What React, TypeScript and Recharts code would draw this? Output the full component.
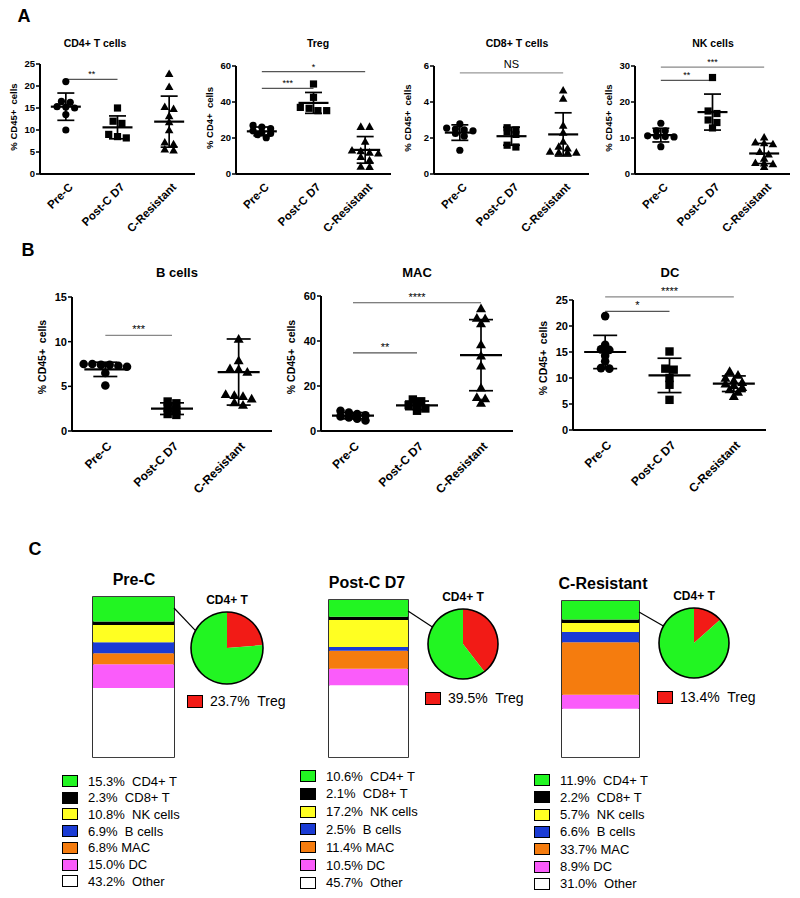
import React from "react";
import {
  Bar,
  BarChart,
  Cell,
  ErrorBar,
  Pie,
  PieChart,
  ReferenceArea,
  ReferenceLine,
  Scatter,
  ScatterChart,
  XAxis,
  YAxis
} from "recharts";

const groups = ["Pre-C", "Post-C D7", "C-Resistant"];

// panel A
const cd4Values = [
  [21.0, 16.5, 16.3, 15.3, 15.2, 15.0, 13.5, 10.0],
  [15.0, 12.0, 11.5, 9.0, 8.5, 8.2],
  [22.8, 19.8, 15.3, 14.8, 13.2, 11.8, 10.0, 7.2, 6.8, 5.6, 5.4]
];
const cd4Mean = [15.3, 10.6, 11.9];
const cd4Sd = [3.1, 2.6, 5.8];

const tregValues = [
  [27.0, 26.0, 25.2, 24.0, 23.0, 22.5, 21.8, 20.2],
  [50.0, 42.6, 37.0, 36.5, 35.2, 35.2],
  [26.3, 26.3, 18.0, 13.2, 12.8, 12.0, 11.5, 9.6, 7.8, 4.2, 4.0]
];
const tregMean = [23.7, 39.5, 13.4];
const tregSd = [2.4, 5.8, 7.4];

const cd8Values = [
  [2.78, 2.55, 2.5, 2.45, 2.4, 2.25, 2.1, 1.32],
  [2.57, 2.45, 2.35, 2.2, 1.6, 1.5],
  [4.65, 4.19, 2.7, 2.31, 1.8, 1.53, 1.43, 1.25, 1.21, 1.2, 1.2]
];
const cd8Mean = [2.3, 2.1, 2.2];
const cd8Sd = [0.43, 0.5, 1.2];

const nkValues = [
  [14.1, 12.0, 12.0, 10.6, 10.5, 10.4, 10.3, 7.6],
  [26.8, 17.5, 16.8, 15.0, 14.3, 12.8],
  [10.2, 8.8, 8.6, 8.3, 6.2, 5.5, 4.3, 3.1, 3.0, 2.8, 2.0]
];
const nkMean = [10.8, 17.2, 5.7];
const nkSd = [1.9, 5.0, 2.8];

// panel B
const bValues = [
  [7.5, 7.5, 7.4, 7.4, 7.3, 7.2, 6.5, 5.1],
  [3.3, 3.1, 2.6, 2.3, 1.9, 1.8],
  [10.3, 7.9, 7.0, 6.9, 6.6, 4.1, 4.0, 3.9, 3.6, 3.2, 2.9]
];
const bMean = [6.9, 2.5, 6.6];
const bSd = [0.8, 0.65, 3.7];

const macValues = [
  [9.0, 8.2, 7.5, 7.0, 6.5, 6.0, 5.5, 4.7],
  [14.0, 13.2, 11.5, 10.8, 10.0, 9.0],
  [54.5, 50.2, 50.0, 47.8, 38.5, 33.5, 29.0, 19.2, 15.0, 14.5, 12.5]
];
const macMean = [6.8, 11.4, 33.7];
const macSd = [1.4, 1.9, 15.8];

const dcValues = [
  [21.9, 16.4, 15.5, 15.4, 14.3, 13.2, 11.9, 11.8],
  [15.1, 11.8, 11.6, 10.0, 8.7, 5.8],
  [11.3, 10.6, 10.0, 9.5, 9.2, 8.9, 8.6, 8.2, 7.8, 7.3, 6.5]
];
const dcMean = [15.0, 10.5, 8.9];
const dcSd = [3.2, 3.3, 1.5];

// panel C
const compCells = ["CD4+ T", "CD8+ T", "NK cells", "B cells", "MAC", "DC", "Other"];
const compColors = ["#22f522", "#000000", "#ffff22", "#1a3bd4", "#f57c0e", "#fa5cfa", "#ffffff"];
const compPreC = [15.3, 2.3, 10.8, 6.9, 6.8, 15.0, 43.2];
const compPostC = [10.6, 2.1, 17.2, 2.5, 11.4, 10.5, 45.7];
const compResistant = [11.9, 2.2, 5.7, 6.6, 33.7, 8.9, 31.0];
const tregOfCd4 = [23.7, 39.5, 13.4];

type Sig = { from: number; to: number; y: number; label: string; color?: string };

const FONT = '"Liberation Sans", Arial, Helvetica, sans-serif';

// spread points with similar values sideways, like a scatter dot plot
function swarm(values: number[], group: number, bin: number, step: number) {
  const sorted = [...values].sort((a, b) => b - a);
  const rows: number[][] = [];
  let cur: number[] = [];
  for (const v of sorted) {
    if (cur.length && cur[0] - v > bin) {
      rows.push(cur);
      cur = [];
    }
    cur.push(v);
  }
  if (cur.length) rows.push(cur);
  const out: { x: number; y: number }[] = [];
  rows.forEach((row) =>
    row.forEach((v, k) => out.push({ x: group + (k - (row.length - 1) / 2) * step, y: v }))
  );
  return out;
}

function SlantTick(props: any) {
  const { x, y, payload, big } = props;
  const fs = big ? 12 : 11.5;
  return (
    <g transform={`translate(${x + (big ? 4 : 5)},${y + (big ? 11 : 9)})`}>
      <text textAnchor="end" transform="rotate(-45)" fontSize={fs} fontWeight={700} fill="#000" dy="0.35em">
        {groups[payload.value]}
      </text>
    </g>
  );
}

const markerShape = (g: number, big: boolean) => (props: any) => {
  const { cx, cy } = props;
  if (g === 0) return <circle cx={cx} cy={cy} r={big ? 4.3 : 3.6} fill="#000" />;
  if (g === 1) {
    const h = big ? 4.2 : 3.6;
    return <rect x={cx - h} y={cy - h} width={2 * h} height={2 * h} fill="#000" />;
  }
  const s = big ? 5 : 4.3;
  return <polygon points={`${cx},${cy - s} ${cx + s},${cy + s * 0.75} ${cx - s},${cy + s * 0.75}`} fill="#000" />;
};

type DotPlotProps = {
  title: string;
  titleX: number;
  titleY: number;
  yLabel: string;
  values: number[][];
  means: number[];
  sds: number[];
  yMax: number;
  yTicks: number[];
  sig: Sig[];
  axisX: number;
  plotTop: number;
  plotBottom: number;
  plotRight: number;
  big?: boolean;
};

function DotPlot(p: DotPlotProps) {
  const big = !!p.big;
  const yw = big ? 34 : 26;
  const mt = big ? 26 : 18;
  const mr = 6;
  const xh = big ? 72 : 64;
  const left = p.axisX - yw;
  const top = p.plotTop - mt;
  const width = p.plotRight - left + mr;
  const height = p.plotBottom - top + xh;
  const step = big ? 0.13 : 0.17;
  const points = p.values.map((vals, g) => swarm(vals, g, p.yMax * 0.035, step));
  const meanData = p.means.map((m, g) => ({ x: g, y: m, sd: p.sds[g] }));
  const hw = big ? 21 : 15;
  const meanShape = (props: any) => (
    <line x1={props.cx - hw} x2={props.cx + hw} y1={props.cy} y2={props.cy} stroke="#000" strokeWidth={2.2} />
  );
  const plotMid = (p.plotTop + p.plotBottom) / 2;

  return (
    <>
      <div
        style={{
          position: "absolute",
          left: p.titleX,
          top: p.titleY,
          transform: "translate(-50%, -50%)",
          fontSize: big ? 13 : 10.5,
          fontWeight: 700,
          whiteSpace: "nowrap"
        }}
      >
        {p.title}
      </div>
      <div
        style={{
          position: "absolute",
          left: p.axisX - (big ? 30 : 27),
          top: plotMid - (big ? 7 : 2),
          transform: "translate(-50%, -50%) rotate(-90deg)",
          fontSize: big ? 10.5 : 9.5,
          fontWeight: 700,
          whiteSpace: "pre"
        }}
      >
        {p.yLabel}
      </div>
      <div style={{ position: "absolute", left, top }}>
        <ScatterChart
          width={width}
          height={height}
          margin={{ top: mt, right: mr, left: 0, bottom: 0 }}
          style={{ overflow: "visible" }}
        >
          <XAxis
            type="number"
            dataKey="x"
            domain={[-0.5, 2.5]}
            ticks={[0, 1, 2]}
            allowDataOverflow
            tick={<SlantTick big={big} />}
            tickLine={false}
            tickSize={0}
            height={xh}
            axisLine={{ stroke: "#000", strokeWidth: 2 }}
          />
          <YAxis
            type="number"
            dataKey="y"
            domain={[0, p.yMax]}
            ticks={p.yTicks}
            allowDataOverflow
            width={yw}
            tick={{ fontSize: big ? 11 : 9.5, fontWeight: 700, fill: "#000" }}
            tickLine={{ stroke: "#000", strokeWidth: 1.5 }}
            tickSize={4}
            tickMargin={1}
            axisLine={{ stroke: "#000", strokeWidth: 2 }}
          />
          {p.sig.map((s) => (
            <ReferenceLine
              key={s.label + s.to}
              segment={[
                { x: s.from, y: s.y },
                { x: s.to, y: s.y }
              ]}
              ifOverflow="visible"
              stroke={s.color || "#555"}
              strokeWidth={1.2}
              label={{
                value: s.label,
                position: "top",
                fill: "#000",
                fontSize: s.label === "NS" ? 11 : big ? 11 : 9,
                offset: s.label === "NS" ? 5 : 2
              }}
            />
          ))}
          {points.map((pts, g) => (
            <Scatter key={g} data={pts} shape={markerShape(g, big)} isAnimationActive={false} />
          ))}
          <Scatter data={meanData} shape={meanShape} isAnimationActive={false}>
            <ErrorBar dataKey="sd" direction="y" width={big ? 12 : 8.5} stroke="#000" strokeWidth={1.7} />
          </Scatter>
        </ScatterChart>
      </div>
    </>
  );
}

type CompProps = {
  title: string;
  titleX: number;
  values: number[];
  treg: number;
  bar: { x: number; y: number; w: number; h: number };
  pie: { cx: number; cy: number; r: number };
  tregLegend: { x: number; y: number };
  legend: { x: number; y: number; step: number };
};

function Composition(c: CompProps) {
  const row: Record<string, string | number> = { name: c.title };
  compCells.forEach((cell, i) => (row[cell] = c.values[i]));
  const total = c.values.reduce((a, b) => a + b, 0);
  const stackOrder = [6, 5, 4, 3, 2, 1, 0];
  const pieData = [
    { name: "Treg", value: c.treg },
    { name: "non-Treg", value: 100 - c.treg }
  ];
  const pad = 5;
  return (
    <>
      <div
        style={{
          position: "absolute",
          left: c.titleX,
          top: c.bar.y - 17,
          transform: "translate(-50%, -50%)",
          fontSize: 16,
          fontWeight: 700,
          whiteSpace: "nowrap"
        }}
      >
        {c.title}
      </div>
      <div style={{ position: "absolute", left: c.bar.x - 2, top: c.bar.y - 2 }}>
        <BarChart
          width={c.bar.w + 4}
          height={c.bar.h + 4}
          data={[row]}
          margin={{ top: 2, right: 2, bottom: 2, left: 2 }}
          barCategoryGap={0}
        >
          <XAxis dataKey="name" hide />
          <YAxis type="number" hide domain={[0, total]} allowDataOverflow />
          {stackOrder.map((i) => (
            <Bar key={compCells[i]} dataKey={compCells[i]} stackId="s" fill={compColors[i]} isAnimationActive={false} />
          ))}
          <ReferenceArea y1={0} y2={total} fill="none" stroke="#000" strokeWidth={1.6} ifOverflow="visible" />
        </BarChart>
      </div>
      <div
        style={{
          position: "absolute",
          left: c.pie.cx,
          top: c.pie.cy - c.pie.r - 12,
          transform: "translate(-50%, -50%)",
          fontSize: 12,
          fontWeight: 700,
          whiteSpace: "nowrap"
        }}
      >
        CD4+ T
      </div>
      <div style={{ position: "absolute", left: c.pie.cx - c.pie.r - pad, top: c.pie.cy - c.pie.r - pad }}>
        <PieChart width={2 * c.pie.r + 2 * pad} height={2 * c.pie.r + 2 * pad} margin={{ top: 0, right: 0, bottom: 0, left: 0 }}>
          <Pie
            data={pieData}
            dataKey="value"
            cx="50%"
            cy="50%"
            outerRadius={c.pie.r}
            startAngle={90}
            endAngle={-270}
            stroke="none"
            isAnimationActive={false}
          >
            <Cell fill="#f21b16" />
            <Cell fill="#22f522" />
          </Pie>
          <Pie
            data={[{ name: "CD4+ T", value: 1 }]}
            dataKey="value"
            cx="50%"
            cy="50%"
            innerRadius={c.pie.r - 0.8}
            outerRadius={c.pie.r + 0.8}
            fill="#000"
            stroke="none"
            isAnimationActive={false}
          />
        </PieChart>
      </div>
      <div
        style={{
          position: "absolute",
          left: c.tregLegend.x,
          top: c.tregLegend.y - 7,
          display: "flex",
          alignItems: "center",
          fontSize: 14,
          whiteSpace: "pre"
        }}
      >
        <span style={{ display: "inline-block", width: 14, height: 11, background: "#f21b16", border: "1px solid #000", marginRight: 7 }} />
        {`${c.treg.toFixed(1)}%  Treg`}
      </div>
      {compCells.map((cell, i) => (
        <div
          key={cell}
          style={{
            position: "absolute",
            left: c.legend.x,
            top: c.legend.y + i * c.legend.step - 8,
            height: 16,
            display: "flex",
            alignItems: "center",
            fontSize: 13,
            whiteSpace: "pre"
          }}
        >
          <span
            style={{
              display: "inline-block",
              width: 14,
              height: 10,
              background: compColors[i],
              border: "1px solid #000",
              marginRight: 10
            }}
          />
          {`${c.values[i].toFixed(1)}%${cell === "MAC" || cell === "DC" ? " " : "  "}${cell}`}
        </div>
      ))}
    </>
  );
}

const comps: CompProps[] = [
  {
    title: "Pre-C",
    titleX: 134,
    values: compPreC,
    treg: tregOfCd4[0],
    bar: { x: 93, y: 597, w: 81, h: 160 },
    pie: { cx: 227, cy: 648, r: 36 },
    tregLegend: { x: 187, y: 700 },
    legend: { x: 62, y: 781, step: 16.7 }
  },
  {
    title: "Post-C D7",
    titleX: 367,
    values: compPostC,
    treg: tregOfCd4[1],
    bar: { x: 329, y: 600, w: 79, h: 157 },
    pie: { cx: 463, cy: 644, r: 35 },
    tregLegend: { x: 425, y: 697 },
    legend: { x: 300, y: 776, step: 17.8 }
  },
  {
    title: "C-Resistant",
    titleX: 603,
    values: compResistant,
    treg: tregOfCd4[2],
    bar: { x: 562, y: 601, w: 77, h: 156 },
    pie: { cx: 694, cy: 643, r: 35 },
    tregLegend: { x: 657, y: 696 },
    legend: { x: 534, y: 780, step: 17.3 }
  }
];

const Letter = ({ x, y, text }: { x: number; y: number; text: string }) => (
  <div style={{ position: "absolute", left: x, top: y, transform: "translate(-50%, -50%)", fontSize: 18, fontWeight: 700 }}>
    {text}
  </div>
);

export default function App() {
  const yLab = "% CD45+  cells";
  return (
    <div
      style={{
        position: "absolute",
        left: 0,
        top: 0,
        width: 800,
        height: 898,
        background: "#fff",
        fontFamily: FONT,
        color: "#000",
        overflow: "hidden"
      }}
    >
      <Letter x={24} y={16} text="A" />
      <Letter x={28} y={250} text="B" />
      <Letter x={35} y={549} text="C" />

      <DotPlot
        title="CD4+ T cells"
        titleX={95}
        titleY={43}
        yLabel={yLab}
        values={cd4Values}
        means={cd4Mean}
        sds={cd4Sd}
        yMax={25}
        yTicks={[0, 5, 10, 15, 20, 25]}
        sig={[{ from: 0, to: 1, y: 21.5, label: "**" }]}
        axisX={40}
        plotTop={64}
        plotBottom={174}
        plotRight={195}
      />
      <DotPlot
        title="Treg"
        titleX={318}
        titleY={43}
        yLabel="% CD4+  cells"
        values={tregValues}
        means={tregMean}
        sds={tregSd}
        yMax={60}
        yTicks={[0, 20, 40, 60]}
        sig={[
          { from: 0, to: 1, y: 47.6, label: "***" },
          { from: 0, to: 2, y: 56.9, label: "*" }
        ]}
        axisX={236}
        plotTop={66}
        plotBottom={174}
        plotRight={391}
      />
      <DotPlot
        title="CD8+ T cells"
        titleX={517}
        titleY={43}
        yLabel={yLab}
        values={cd8Values}
        means={cd8Mean}
        sds={cd8Sd}
        yMax={6}
        yTicks={[0, 2, 4, 6]}
        sig={[{ from: 0, to: 2, y: 5.62, label: "NS", color: "#999" }]}
        axisX={434}
        plotTop={66}
        plotBottom={174}
        plotRight={589}
      />
      <DotPlot
        title="NK cells"
        titleX={713}
        titleY={43}
        yLabel={yLab}
        values={nkValues}
        means={nkMean}
        sds={nkSd}
        yMax={30}
        yTicks={[0, 10, 20, 30]}
        sig={[
          { from: 0, to: 1, y: 26.0, label: "**" },
          { from: 0, to: 2, y: 29.7, label: "***", color: "#888" }
        ]}
        axisX={635}
        plotTop={66}
        plotBottom={174}
        plotRight={790}
      />

      <DotPlot
        big
        title="B cells"
        titleX={177}
        titleY={272}
        yLabel={yLab}
        values={bValues}
        means={bMean}
        sds={bSd}
        yMax={15}
        yTicks={[0, 5, 10, 15]}
        sig={[{ from: 0, to: 1, y: 10.7, label: "***", color: "#888" }]}
        axisX={72}
        plotTop={297}
        plotBottom={431}
        plotRight={272}
      />
      <DotPlot
        big
        title="MAC"
        titleX={417}
        titleY={272}
        yLabel={yLab}
        values={macValues}
        means={macMean}
        sds={macSd}
        yMax={60}
        yTicks={[0, 20, 40, 60]}
        sig={[
          { from: 0, to: 1, y: 34.7, label: "**" },
          { from: 0, to: 2, y: 57.0, label: "****" }
        ]}
        axisX={321}
        plotTop={296}
        plotBottom={431}
        plotRight={513}
      />
      <DotPlot
        big
        title="DC"
        titleX={670}
        titleY={272}
        yLabel={yLab}
        values={dcValues}
        means={dcMean}
        sds={dcSd}
        yMax={25}
        yTicks={[0, 5, 10, 15, 20, 25]}
        sig={[
          { from: 0, to: 1, y: 22.8, label: "*" },
          { from: 0, to: 2, y: 25.6, label: "****", color: "#888" }
        ]}
        axisX={573}
        plotTop={300}
        plotBottom={430}
        plotRight={766}
      />

      {comps.map((c) => (
        <Composition key={c.title} {...c} />
      ))}

      <svg width={800} height={898} style={{ position: "absolute", left: 0, top: 0, pointerEvents: "none" }}>
        {comps.map((c) => {
          const a = (151 * Math.PI) / 180;
          return (
            <line
              key={c.title}
              x1={c.bar.x + c.bar.w}
              y1={c.bar.y + 11}
              x2={c.pie.cx + c.pie.r * Math.cos(a)}
              y2={c.pie.cy - c.pie.r * Math.sin(a)}
              stroke="#000"
              strokeWidth={1.2}
            />
          );
        })}
      </svg>
    </div>
  );
}
